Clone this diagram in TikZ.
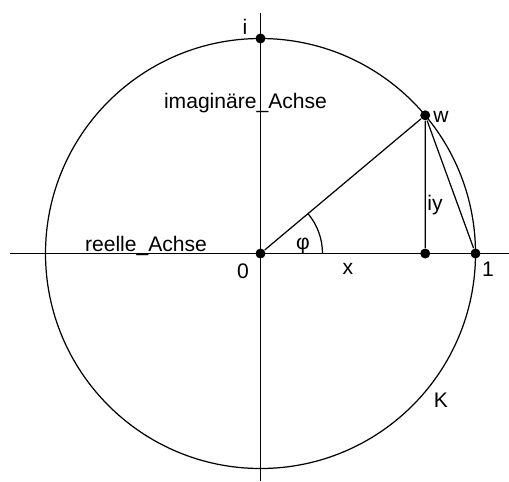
\documentclass[tikz,border=0pt]{standalone}
\usepackage{fontspec}
\setmainfont{Liberation Sans}
\begin{document}
\begin{tikzpicture}[x=0.02cm, y=0.02cm, line width=0.7pt,
    punkt/.style={circle, fill, inner sep=0pt, minimum size=0.2cm},
    txt/.style={inner sep=0pt, font=\fontsize{12}{14}\selectfont}]
    \useasboundingbox (-260.5,-227.5) rectangle (248.5,253.5);
    
    % Achsen
    \coordinate (links) at (-250.5,0);
    \coordinate (rechts) at (248.5,0);
    \coordinate (oben) at (0,240.5);
    \coordinate (unten) at (0,-227.5);
    \draw (links) -- (rechts);
    \draw (oben) -- (unten);
    
    % Einheitskreis K
    \draw (0,0) circle (215);
    
    % Punkte
    \node[punkt] (O) at (0,0) {};
    \node[punkt] (I) at (90:215) {};
    \node[punkt] (W) at (40:215) {};
    \node[punkt] (F) at (W |- O) {};
    \node[punkt] (E) at (0:215) {};
    
    % Strecken
    \draw (O) -- (W) -- (F);
    \draw (W) -- (E);
    
    % Winkel phi
    \draw (62,0) arc (0:40:62);
    
    % Beschriftungen
    \node[txt] (li) at (-15.5,226.5) {i};
    \node[txt, anchor=base] (lima) at (-15,145.5) {imaginäre\_Achse};
    \node[txt] (lw) at (180.5,136.5) {w};
    \node[txt, anchor=base] (liy) at (174.5,43.5) {iy};
    \node[txt, anchor=base] (lre) at (-114.5,2.5) {reelle\_Achse};
    \node[txt] (l0) at (-17.5,-17.5) {0};
    \node[txt] (lphi) at (42.5,7.5) {φ};
    \node[txt] (lx) at (87.5,-15.5) {x};
    \node[txt] (l1) at (227.5,-15.5) {1};
    \node[txt] (lk) at (180.5,-146.5) {K};
\end{tikzpicture}
\end{document}
